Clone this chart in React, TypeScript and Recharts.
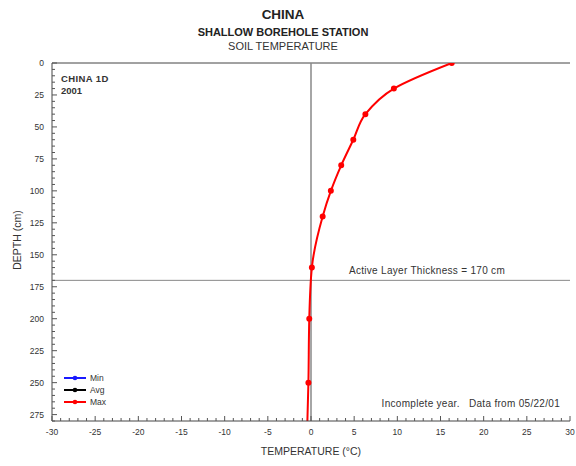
import React from "react";
import { LineChart, Line, XAxis, YAxis, ReferenceLine } from "recharts";

// Max soil temperature profile (depth in cm, temperature in °C)
const depths = [0, 20, 40, 60, 80, 100, 120, 160, 200, 250, 300];
const maxTemps = [16.3, 9.6, 6.3, 4.9, 3.5, 2.3, 1.35, 0.1, -0.2, -0.3, -0.5];

const tempMajorTicks = [-30, -25, -20, -15, -10, -5, 0, 5, 10, 15, 20, 25, 30];
const depthMajorTicks = [0, 25, 50, 75, 100, 125, 150, 175, 200, 225, 250, 275];
const activeLayerDepth = 170;

const legendItems = [
  { name: "Min", color: "#1a1aff" },
  { name: "Avg", color: "#000000" },
  { name: "Max", color: "#ff0000" },
];

const W = 576;
const H = 466;
const FONT = "Arial, 'Liberation Sans', sans-serif";

const data = depths.map((d, i) => ({ depth: d, max: maxTemps[i] }));

// minor ticks every 1 degree / every 5 cm
const tempTicks: number[] = [];
for (let t = -30; t <= 30; t++) tempTicks.push(t);
const depthTicks: number[] = [];
for (let d = 0; d <= 280; d += 5) depthTicks.push(d);

type TickProps = { x?: number; y?: number; payload?: { value: number } };

function TempTick({ x = 0, y = 0, payload }: TickProps) {
  const v = payload?.value ?? 0;
  const major = tempMajorTicks.includes(v);
  return (
    <g>
      <line x1={x} x2={x} y1={y} y2={y - (major ? 5 : 3)} stroke="#555" />
      {major && (
        <text x={x} y={y + 14} textAnchor="middle" fontSize={8.5} fill="#333" fontFamily={FONT}>
          {v}
        </text>
      )}
    </g>
  );
}

function DepthTick({ x = 0, y = 0, payload }: TickProps) {
  const v = payload?.value ?? 0;
  const major = depthMajorTicks.includes(v);
  return (
    <g>
      <line x1={x} x2={x + (major ? 5 : 3)} y1={y} y2={y} stroke="#555" />
      {major && (
        <text x={x - 8} y={y + 3} textAnchor="end" fontSize={8.5} fill="#333" fontFamily={FONT}>
          {v}
        </text>
      )}
    </g>
  );
}

export default function App() {
  return (
    <div style={{ position: "absolute", left: 0, top: 0, width: W, height: H, background: "#fff", fontFamily: FONT }}>
      <LineChart
        width={W}
        height={H}
        data={data}
        layout="vertical"
        margin={{ top: 63, right: 6, left: 0, bottom: 0 }}
      >
        <XAxis
          type="number"
          domain={[-30, 30]}
          ticks={tempTicks}
          interval={0}
          tick={<TempTick />}
          tickLine={false}
          tickSize={0}
          tickMargin={0}
          height={45}
          stroke="#444"
          allowDataOverflow
        />
        <YAxis
          type="number"
          dataKey="depth"
          domain={[0, 280]}
          ticks={depthTicks}
          interval={0}
          tick={<DepthTick />}
          tickLine={false}
          tickSize={0}
          tickMargin={0}
          width={52}
          stroke="#444"
          allowDataOverflow
        />
        <ReferenceLine y={0} stroke="#444" />
        <ReferenceLine x={0} stroke="#888" strokeWidth={1.5} />
        <ReferenceLine y={activeLayerDepth} stroke="#888" />
        <Line
          dataKey="max"
          type="monotone"
          stroke="#ff0000"
          strokeWidth={2}
          dot={{ r: 2, fill: "#ff0000", stroke: "#ff0000" }}
          isAnimationActive={false}
        />
      </LineChart>

      <svg width={W} height={H} style={{ position: "absolute", left: 0, top: 0, pointerEvents: "none" }}>
        <text x={283} y={19} textAnchor="middle" fontSize={13.5} fontWeight="bold" fill="#222">CHINA</text>
        <text x={283} y={36} textAnchor="middle" fontSize={11} fontWeight="bold" fill="#222">SHALLOW BOREHOLE STATION</text>
        <text x={283} y={50} textAnchor="middle" fontSize={11} fill="#333">SOIL TEMPERATURE</text>

        <text x={61} y={82} fontSize={9.5} fontWeight="bold" fill="#333" letterSpacing={0.4}>CHINA 1D</text>
        <text x={61} y={94} fontSize={9.5} fontWeight="bold" fill="#333">2001</text>

        <text x={427} y={274} textAnchor="middle" fontSize={10} fill="#333" letterSpacing={0.3}>Active Layer Thickness = 170 cm</text>
        <text x={560} y={407} textAnchor="end" fontSize={10} fill="#333" letterSpacing={0.3} style={{ whiteSpace: "pre" }}>
          {"Incomplete year.   Data from 05/22/01"}
        </text>

        {legendItems.map((item, i) => (
          <g key={item.name}>
            <line x1={64} x2={86} y1={378 + i * 12} y2={378 + i * 12} stroke={item.color} strokeWidth={2} />
            <circle cx={75} cy={378 + i * 12} r={2.3} fill={item.color} />
            <text x={90} y={381 + i * 12} fontSize={8.5} fill="#333">{item.name}</text>
          </g>
        ))}

        <text x={311} y={455} textAnchor="middle" fontSize={10.5} fill="#333">TEMPERATURE (°C)</text>
        <text x={21} y={240} textAnchor="middle" fontSize={10.5} fill="#333" transform="rotate(-90 21 240)">DEPTH (cm)</text>
      </svg>
    </div>
  );
}
